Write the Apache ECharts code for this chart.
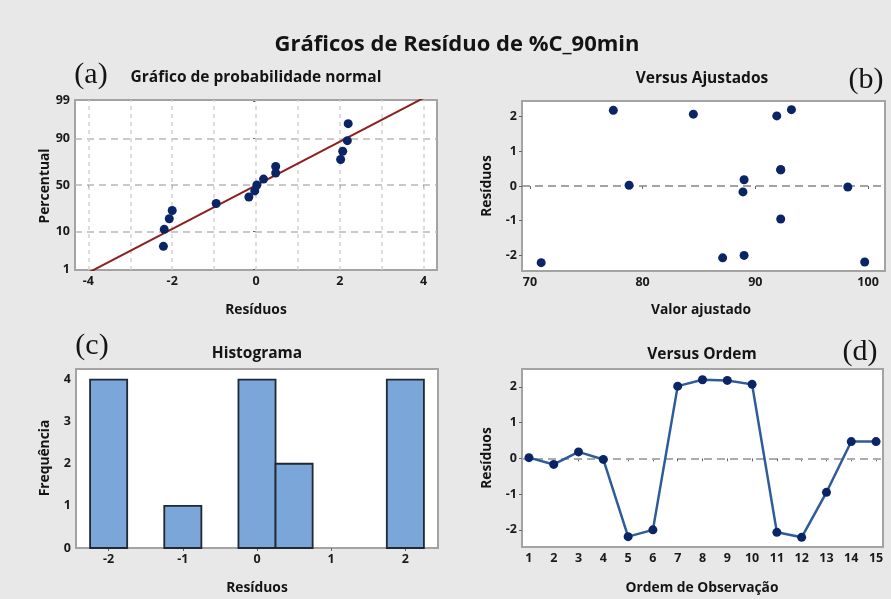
<!DOCTYPE html>
<html>
<head>
<meta charset="utf-8">
<script src="https://cdn.jsdelivr.net/npm/echarts@6/dist/echarts.min.js"></script>
<style>
  html, body { margin: 0; padding: 0; background: #e8e8e8; }
  #chart { width: 891px; height: 599px; }
</style>
</head>
<body>
<div id="chart"></div>
<script>
// Residuals in observation order (1..15) and the fitted values they belong to
const observation = [1, 2, 3, 4, 5, 6, 7, 8, 9, 10, 11, 12, 13, 14, 15];
const residuals = [0.02, -0.17, 0.18, -0.03, -2.19, -2.0, 2.02, 2.2, 2.18, 2.07, -2.07, -2.21, -0.95, 0.47, 0.47];
const fittedValues = [78.8, 88.9, 89.0, 98.2, 99.7, 89.0, 91.9, 93.2, 77.4, 84.5, 87.1, 71.0, 92.25, 92.25, 92.25];

// Normal probability plot: ordered residuals and their plotting percentiles
const orderedResiduals = [-2.21, -2.19, -2.07, -2.0, -0.95, -0.17, -0.03, 0.02, 0.18, 0.47, 0.47, 2.02, 2.07, 2.18, 2.2];
const percentiles = [4.5, 11.0, 17.5, 24.0, 30.5, 37.0, 43.5, 50.0, 56.5, 63.0, 69.5, 76.0, 82.5, 89.0, 95.5];
const percentTicks = [1, 10, 50, 90, 99];
const fitMean = 0.015;
const fitStdDev = 1.657;

// Histogram bins (centre, count) with a common bin width
const binCenters = [-2, -1, 0, 0.5, 2];
const binCounts = [4, 1, 4, 2, 4];
const binWidth = 0.5;

// Tick labels
const probXTicks = [-4, -2, 0, 2, 4];
const probXGrid = [-4, -3, -2, -1, 0, 1, 2, 3, 4];
const residTicks = [-2, -1, 0, 1, 2];
const fittedTicks = [70, 80, 90, 100];
const histXTicks = [-2, -1, 0, 1, 2];
const freqTicks = [0, 1, 2, 3, 4];

// Inverse of the standard normal CDF (Acklam), used for the probability axis
function probit(p) {
  const a = [-3.969683028665376e+01, 2.209460984245205e+02, -2.759285104469687e+02, 1.383577518672690e+02, -3.066479806614716e+01, 2.506628277459239e+00];
  const b = [-5.447609879822406e+01, 1.615858368580409e+02, -1.556989798598866e+02, 6.680131188771972e+01, -1.328068155288572e+01];
  const c = [-7.784894002430293e-03, -3.223964580411365e-01, -2.400758277161838e+00, -2.549732539343734e+00, 4.374664141464968e+00, 2.938163982698783e+00];
  const d = [7.784695709041462e-03, 3.224671290700398e-01, 2.445134137142996e+00, 3.754408661907416e+00];
  const pl = 0.02425, ph = 1 - pl;
  let q, r;
  if (p < pl) {
    q = Math.sqrt(-2 * Math.log(p));
    return (((((c[0]*q+c[1])*q+c[2])*q+c[3])*q+c[4])*q+c[5]) / ((((d[0]*q+d[1])*q+d[2])*q+d[3])*q+1);
  } else if (p <= ph) {
    q = p - 0.5; r = q * q;
    return (((((a[0]*r+a[1])*r+a[2])*r+a[3])*r+a[4])*r+a[5])*q / (((((b[0]*r+b[1])*r+b[2])*r+b[3])*r+b[4])*r+1);
  }
  q = Math.sqrt(-2 * Math.log(1 - p));
  return -(((((c[0]*q+c[1])*q+c[2])*q+c[3])*q+c[4])*q+c[5]) / ((((d[0]*q+d[1])*q+d[2])*q+d[3])*q+1);
}

const FONT = '"Open Sans", "Noto Sans", sans-serif';
const SERIF = '"Liberation Serif", "DejaVu Serif", serif';
const MARKER = '#0a2466';
const FRAME = '#a3a3a3';

const probZ = percentiles.map(p => probit(p / 100));
const tickZ = percentTicks.map(p => probit(p / 100));

function axisBase(extra) {
  return Object.assign({
    type: 'value',
    axisLine: { show: false },
    splitLine: { show: false },
    axisTick: { show: true, inside: false, length: 3, lineStyle: { color: '#666', width: 1 } },
    axisLabel: { color: '#1a1a1a', fontSize: 12.5, fontWeight: 700, fontFamily: FONT, margin: 5 }
  }, extra);
}
function withCustom(axis, values, formatter) {
  axis.axisTick.customValues = values;
  axis.axisLabel = Object.assign({}, axis.axisLabel, { customValues: values });
  if (formatter) axis.axisLabel.formatter = formatter;
  return axis;
}

function label(text, x, y, font, rotate) {
  const el = { type: 'text', x: x, y: y, style: { text: text, font: font, fill: '#141414', textAlign: 'center', textVerticalAlign: 'middle' } };
  if (rotate) el.rotation = Math.PI / 2;
  return el;
}

const gridStyle = { show: true, backgroundColor: '#ffffff', borderColor: FRAME, borderWidth: 2 };
const TITLE_FONT = '700 15.5px ' + FONT;
const NAME_FONT = '700 13.8px ' + FONT;
const LETTER_FONT = '30px ' + SERIF;

const option = {
  backgroundColor: '#e8e8e8',
  animation: false,
  textStyle: { fontFamily: FONT },
  grid: [
    Object.assign({ left: 75, top: 100, width: 362, height: 170 }, gridStyle),
    Object.assign({ left: 522, top: 101, width: 363, height: 170 }, gridStyle),
    Object.assign({ left: 76, top: 369, width: 362, height: 179 }, gridStyle),
    Object.assign({ left: 522, top: 369, width: 361, height: 178 }, gridStyle)
  ],
  xAxis: [
    withCustom(axisBase({ gridIndex: 0, min: -4.32, max: 4.32 }), probXTicks),
    withCustom(axisBase({ gridIndex: 1, min: 69.3, max: 101.5 }), fittedTicks),
    withCustom(axisBase({ gridIndex: 2, min: -2.44, max: 2.44 }), histXTicks),
    withCustom(axisBase({ gridIndex: 3, min: 0.72, max: 15.28 }), observation)
  ],
  yAxis: [
    withCustom(axisBase({ gridIndex: 0, min: -2.35, max: 2.35 }), tickZ, function (v) {
      let best = 0;
      tickZ.forEach((z, i) => { if (Math.abs(z - v) < Math.abs(tickZ[best] - v)) best = i; });
      return String(percentTicks[best]);
    }),
    withCustom(axisBase({ gridIndex: 1, min: -2.45, max: 2.45 }), residTicks),
    withCustom(axisBase({ gridIndex: 2, min: 0, max: 4.25 }), freqTicks),
    withCustom(axisBase({ gridIndex: 3, min: -2.48, max: 2.5 }), residTicks)
  ],
  series: [
    // (a) fitted normal line with horizontal percentile guides
    {
      type: 'line', xAxisIndex: 0, yAxisIndex: 0, clip: true, silent: true,
      symbol: 'none',
      lineStyle: { color: '#8e1f1f', width: 2 },
      data: [0.5, 99.5].map(p => [fitMean + fitStdDev * probit(p / 100), probit(p / 100)]),
      markLine: {
        silent: true, symbol: 'none', z: 1, label: { show: false },
        lineStyle: { color: '#b8b8b8', type: [7, 5], width: 1.5 },
        data: [10, 50, 90].map(p => ({ yAxis: probit(p / 100) }))
      },
      z: 3
    },
    // (a) ordered residuals vs percentile, with vertical guides
    {
      type: 'scatter', xAxisIndex: 0, yAxisIndex: 0,
      symbolSize: 9,
      itemStyle: { color: MARKER, opacity: 1 },
      data: orderedResiduals.map((r, i) => [r, probZ[i]]),
      markLine: {
        silent: true, symbol: 'none', z: 1, label: { show: false },
        lineStyle: { color: '#d2d2d2', type: [4, 4], width: 1.5 },
        data: probXGrid.map(x => ({ xAxis: x }))
      },
      z: 4
    },
    // (b) residuals vs fitted values
    {
      type: 'scatter', xAxisIndex: 1, yAxisIndex: 1,
      symbolSize: 9,
      itemStyle: { color: MARKER, opacity: 1 },
      data: fittedValues.map((f, i) => [f, residuals[i]]),
      markLine: {
        silent: true, symbol: 'none', z: 1, label: { show: false },
        lineStyle: { color: '#858585', type: [8, 5], width: 1.6 },
        data: [{ yAxis: 0 }]
      },
      z: 4
    },
    // (c) histogram of residuals
    {
      type: 'custom', xAxisIndex: 2, yAxisIndex: 2,
      data: binCenters.map((c, i) => [c, binCounts[i]]),
      encode: { x: 0, y: 1 },
      renderItem: function (params, api) {
        const c = api.value(0), n = api.value(1);
        const p0 = api.coord([c - binWidth / 2, 0]);
        const p1 = api.coord([c + binWidth / 2, n]);
        return {
          type: 'rect',
          shape: { x: p0[0], y: p1[1], width: p1[0] - p0[0], height: p0[1] - p1[1] },
          style: { fill: '#7ba6da', stroke: '#1f2833', lineWidth: 1.8 }
        };
      }
    },
    // (d) residuals vs observation order
    {
      type: 'line', xAxisIndex: 3, yAxisIndex: 3,
      symbol: 'circle', symbolSize: 9,
      itemStyle: { color: MARKER, opacity: 1 },
      lineStyle: { color: '#2d5c99', width: 2.5 },
      data: observation.map((o, i) => [o, residuals[i]]),
      markLine: {
        silent: true, symbol: 'none', z: 1, label: { show: false },
        lineStyle: { color: '#acacac', type: [8, 5], width: 2 },
        data: [{ yAxis: 0 }]
      },
      z: 4
    }
  ],
  graphic: [
    label('Gráficos de Resíduo de %C_90min', 457, 45, '700 22px ' + FONT),
    // panel titles
    label('Gráfico de probabilidade normal', 256, 78, TITLE_FONT),
    label('Versus Ajustados', 702, 79, TITLE_FONT),
    label('Histograma', 257, 354, TITLE_FONT),
    label('Versus Ordem', 702, 355, TITLE_FONT),
    // x axis names
    label('Resíduos', 256, 310, NAME_FONT),
    label('Valor ajustado', 701, 310, NAME_FONT),
    label('Resíduos', 257, 588, NAME_FONT),
    label('Ordem de Observação', 702, 588, NAME_FONT),
    // y axis names
    label('Percentual', 45, 186, NAME_FONT, true),
    label('Resíduos', 487, 186, NAME_FONT, true),
    label('Frequência', 45, 458, NAME_FONT, true),
    label('Resíduos', 487, 458, NAME_FONT, true),
    // panel letters
    label('(a)', 91, 75, LETTER_FONT),
    label('(b)', 866, 80, LETTER_FONT),
    label('(c)', 92, 346, LETTER_FONT),
    label('(d)', 860, 352, LETTER_FONT)
  ]
};

const chart = echarts.init(document.getElementById('chart'), null, { renderer: 'canvas' });
chart.setOption(option);
</script>
</body>
</html>
